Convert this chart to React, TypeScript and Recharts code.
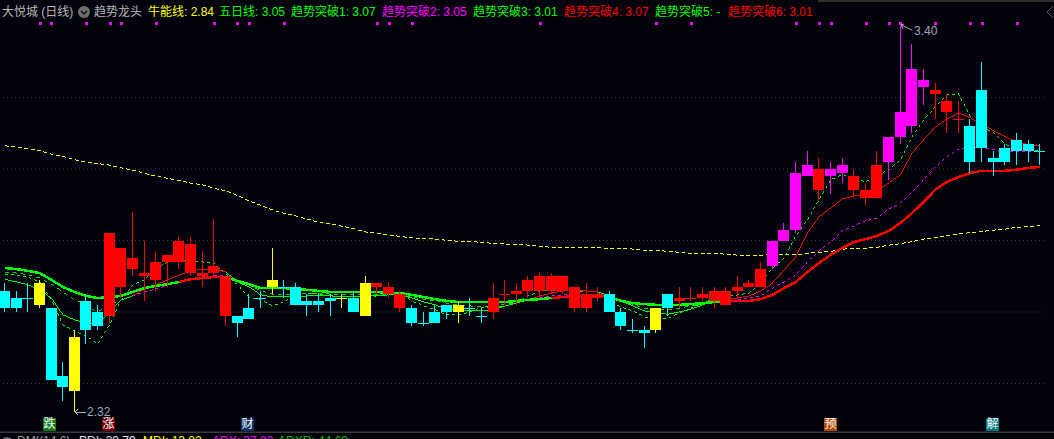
import React from "react";
import { ComposedChart, Bar, Line, XAxis, YAxis, ReferenceLine } from "recharts";

const kinds = ("c c c y c c y c c r " + "r r r r r r r r r r " + "c c c y c c c c c y " + "c y r r r c c c c y " + "c c r r r r r r r r " +
  "r r c c c c y c r r " + "r r r r r r m m m m " + "r m m r r r m m m m " + "r r r c c c c c c c").trim().split(" ");

const bodyTops = [
  2.66,2.64,2.64,2.68,2.61,2.42,2.53,2.63,2.60,2.82,
  2.78,2.75,2.71,2.74,2.76,2.80,2.79,2.71,2.73,2.70,
  2.59,2.61,2.64,2.69,2.67,2.67,2.63,2.63,2.64,2.64,
  2.64,2.68,2.68,2.67,2.65,2.61,2.57,2.60,2.62,2.62,
  2.61,2.59,2.64,2.65,2.66,2.69,2.70,2.70,2.70,2.67,
  2.65,2.65,2.65,2.60,2.55,2.55,2.61,2.65,2.64,2.64,
  2.65,2.66,2.66,2.67,2.68,2.72,2.80,2.83,2.99,3.01,
  3.00,3.00,3.01,2.98,2.94,3.01,3.09,3.16,3.28,3.25,
  3.22,3.19,3.14,3.12,3.22,3.03,3.06,3.08,3.07,3.05,
];
const bodyBottoms = [
  2.61,2.61,2.64,2.62,2.41,2.39,2.38,2.55,2.56,2.59,
  2.67,2.72,2.70,2.69,2.74,2.74,2.71,2.70,2.71,2.59,
  2.57,2.58,2.64,2.67,2.67,2.62,2.62,2.62,2.63,2.64,
  2.60,2.59,2.67,2.65,2.61,2.57,2.57,2.57,2.60,2.60,
  2.61,2.59,2.60,2.65,2.65,2.66,2.66,2.66,2.66,2.61,
  2.61,2.64,2.60,2.56,2.55,2.54,2.55,2.61,2.63,2.64,
  2.64,2.63,2.62,2.66,2.67,2.67,2.73,2.80,2.83,2.98,
  2.94,2.98,2.99,2.94,2.92,2.92,3.02,3.09,3.12,3.23,
  3.21,3.16,3.14,3.02,3.06,3.02,3.02,3.05,3.05,3.05,
];
const highs = [
  2.68,2.66,2.68,2.69,2.61,2.46,2.55,2.65,2.62,2.82,
  2.78,2.88,2.80,2.77,2.76,2.81,2.81,2.77,2.86,2.70,
  2.59,2.65,2.66,2.78,2.69,2.68,2.65,2.65,2.65,2.65,
  2.66,2.70,2.68,2.68,2.66,2.62,2.60,2.62,2.62,2.63,
  2.64,2.61,2.68,2.69,2.68,2.70,2.71,2.71,2.70,2.67,
  2.68,2.67,2.66,2.61,2.58,2.56,2.61,2.65,2.67,2.67,
  2.67,2.67,2.67,2.70,2.69,2.74,2.80,2.85,3.02,3.05,
  3.03,3.02,3.03,3.00,2.96,3.05,3.09,3.40,3.35,3.28,
  3.24,3.21,3.19,3.14,3.30,3.05,3.07,3.10,3.08,3.07,
];
const lows = [
  2.60,2.60,2.60,2.61,2.41,2.35,2.32,2.51,2.55,2.57,
  2.64,2.70,2.63,2.66,2.67,2.72,2.70,2.67,2.70,2.56,
  2.53,2.58,2.61,2.65,2.64,2.62,2.59,2.60,2.59,2.61,
  2.60,2.59,2.65,2.64,2.60,2.56,2.56,2.57,2.58,2.57,
  2.59,2.57,2.58,2.62,2.62,2.64,2.64,2.65,2.65,2.60,
  2.60,2.63,2.60,2.55,2.54,2.50,2.54,2.59,2.61,2.63,
  2.63,2.61,2.62,2.64,2.67,2.67,2.72,2.80,2.82,2.98,
  2.91,2.93,2.96,2.92,2.90,2.92,2.97,3.07,3.10,3.18,
  3.14,3.10,3.10,2.99,3.02,2.98,3.01,3.01,3.02,3.01,
];

const bullLine = [
  3.065,3.061,3.056,3.051,3.042,3.035,3.026,3.019,3.015,3.011,
  3.003,2.997,2.988,2.980,2.974,2.968,2.960,2.956,2.946,2.939,
  2.926,2.911,2.898,2.886,2.876,2.869,2.860,2.851,2.846,2.840,
  2.833,2.824,2.820,2.816,2.811,2.808,2.805,2.804,2.800,2.798,
  2.797,2.795,2.792,2.790,2.790,2.787,2.784,2.781,2.781,2.781,
  2.781,2.780,2.778,2.778,2.776,2.773,2.772,2.770,2.767,2.764,
  2.764,2.763,2.762,2.759,2.759,2.759,2.760,2.760,2.760,2.764,
  2.767,2.769,2.776,2.777,2.778,2.781,2.787,2.791,2.797,2.804,
  2.809,2.813,2.818,2.822,2.825,2.829,2.832,2.837,2.839,2.842,
];
const fiveDay = [
  2.706,2.704,2.698,2.684,2.634,2.564,2.547,2.533,2.510,2.564,
  2.634,2.676,2.690,2.723,2.740,2.746,2.743,2.740,2.737,2.706,
  2.676,2.642,2.634,2.617,2.628,2.650,2.653,2.650,2.645,2.642,
  2.642,2.642,2.645,2.648,2.653,2.631,2.617,2.606,2.592,2.592,
  2.600,2.614,2.614,2.617,2.625,2.645,2.659,2.659,2.659,2.659,
  2.656,2.656,2.628,2.614,2.603,2.586,2.583,2.583,2.597,2.611,
  2.625,2.639,2.642,2.648,2.653,2.681,2.723,2.751,2.813,2.858,
  2.914,2.970,2.984,2.975,2.964,2.981,2.998,3.026,3.090,3.138,
  3.174,3.208,3.210,3.146,3.118,3.101,3.070,3.054,3.051,3.051,
];
const breakFast = [
  2.692,2.684,2.676,2.662,2.639,2.592,2.578,2.569,2.564,2.600,
  2.634,2.645,2.664,2.676,2.690,2.704,2.715,2.720,2.720,2.712,
  2.684,2.670,2.648,2.642,2.642,2.642,2.645,2.645,2.645,2.642,
  2.642,2.645,2.645,2.648,2.648,2.639,2.628,2.620,2.608,2.606,
  2.603,2.603,2.606,2.617,2.625,2.634,2.645,2.653,2.659,2.662,
  2.659,2.656,2.645,2.631,2.617,2.603,2.597,2.594,2.600,2.608,
  2.620,2.631,2.634,2.639,2.645,2.659,2.681,2.718,2.754,2.821,
  2.866,2.891,2.916,2.925,2.930,2.939,2.961,2.984,3.045,3.082,
  3.118,3.140,3.157,3.143,3.126,3.107,3.090,3.076,3.068,3.065,
];
const breakMid = [
  2.712,2.709,2.704,2.695,2.678,2.656,2.634,2.617,2.600,2.620,
  2.634,2.645,2.656,2.664,2.676,2.684,2.692,2.698,2.701,2.701,
  2.690,2.676,2.659,2.650,2.650,2.650,2.653,2.653,2.650,2.648,
  2.648,2.648,2.648,2.648,2.648,2.642,2.636,2.631,2.625,2.620,
  2.617,2.614,2.617,2.622,2.625,2.634,2.639,2.645,2.648,2.648,
  2.648,2.648,2.642,2.631,2.622,2.611,2.606,2.606,2.611,2.617,
  2.622,2.628,2.631,2.634,2.639,2.645,2.667,2.684,2.704,2.740,
  2.771,2.796,2.827,2.841,2.855,2.863,2.888,2.905,2.936,2.970,
  3.006,3.034,3.056,3.062,3.059,3.054,3.051,3.048,3.048,3.048,
];
const breakSlow = [
  2.723,2.720,2.715,2.709,2.690,2.670,2.656,2.645,2.639,2.642,
  2.645,2.656,2.667,2.673,2.678,2.684,2.692,2.695,2.698,2.698,
  2.687,2.678,2.667,2.667,2.667,2.664,2.662,2.659,2.656,2.656,
  2.656,2.656,2.656,2.653,2.653,2.648,2.642,2.636,2.631,2.628,
  2.628,2.628,2.628,2.628,2.631,2.634,2.636,2.639,2.642,2.645,
  2.645,2.648,2.642,2.631,2.625,2.622,2.620,2.620,2.620,2.622,
  2.625,2.628,2.631,2.631,2.631,2.636,2.648,2.667,2.684,2.712,
  2.737,2.760,2.779,2.796,2.804,2.813,2.827,2.849,2.877,2.908,
  2.942,2.964,2.978,2.989,2.995,2.995,2.995,2.998,3.003,3.006,
];

const fastRedRanges = [[11, 19], [45, 51], [61, 89]];
const midMagentaRanges = [[10, 19], [44, 51], [60, 89]];
const slowRedRanges = [[15, 19], [47, 52], [62, 89]];
const signalDays = [3,4,7,9,10,13,18,20,21,24,32,33,35,46,56,59,68,70,71,74,76,77,80,83,84,87];
const signalLevel = 3.407;
const gridLevels = [2.4, 2.6, 2.8, 3.0, 3.2];

const inRange = (i: number, ranges: number[][]) => ranges.some(([a, b]) => i >= a && i <= b);
const inside = (i: number, ranges: number[][]) => ranges.some(([a, b]) => i > a && i < b) || ranges.some(([a, b]) => b === 89 && i > a);

const table = kinds.map((kind, i) => ({
  day: i,
  kind,
  top: bodyTops[i],
  bottom: bodyBottoms[i],
  high: highs[i],
  low: lows[i],
  range: [lows[i], highs[i]],
  bull: bullLine[i],
  five: fiveDay[i],
  fastGreen: inside(i, fastRedRanges) ? null : breakFast[i],
  fastRed: inRange(i, fastRedRanges) ? breakFast[i] : null,
  midGreen: inside(i, midMagentaRanges) ? null : breakMid[i],
  midMagenta: inRange(i, midMagentaRanges) ? breakMid[i] : null,
  slowGreen: inside(i, slowRedRanges) ? null : breakSlow[i],
  slowRed: inRange(i, slowRedRanges) ? breakSlow[i] : null,
  signal: signalDays.includes(i) ? signalLevel : null,
}));

const kindColor: Record<string, string> = { c: "#00ffff", r: "#ff0000", m: "#ff00ff", y: "#ffff00" };

function Candle(props: any) {
  const { x, y, width, height, payload } = props;
  const { high, low, top, bottom, kind } = payload;
  const perUnit = height / (high - low);
  const yTop = y + (high - top) * perUnit;
  const yBottom = y + (high - bottom) * perUnit;
  const color = kindColor[kind];
  const left = Math.round(x + width / 2 - 5.5);
  const mid = left + 5;
  return (
    <g shapeRendering="crispEdges">
      <rect x={mid} y={y} width={1} height={height} fill={color} />
      <rect x={left} y={yTop} width={11} height={Math.max(yBottom - yTop, 1)} fill={color} />
    </g>
  );
}

function SignalDot(props: any) {
  const { cx, cy, index } = props;
  if (cy == null || cx == null || props.payload?.signal == null) return <g key={index} />;
  return <rect key={index} x={Math.round(cx) - 1} y={Math.round(cy) - 1} width={3} height={3} fill="#ff00ff" shapeRendering="crispEdges" />;
}

const headerItems = [
  { x: 2, text: "大悦城 (日线)", color: "#b8b8b8" },
  { x: 94, text: "趋势龙头", color: "#b8b8b8" },
  { x: 148, text: "牛能线: 2.84", color: "#ffff00" },
  { x: 219, text: "五日线: 3.05", color: "#00ff00" },
  { x: 291, text: "趋势突破1: 3.07", color: "#00ff00" },
  { x: 382, text: "趋势突破2: 3.05", color: "#ff00ff" },
  { x: 473, text: "趋势突破3: 3.01", color: "#00ff00" },
  { x: 564, text: "趋势突破4: 3.07", color: "#ff0000" },
  { x: 655, text: "趋势突破5: -", color: "#00ff00" },
  { x: 728, text: "趋势突破6: 3.01", color: "#ff0000" },
];
const eventTags = [
  { x: 43, text: "跌", color: "#0a7a10" },
  { x: 102, text: "涨", color: "#7a0000" },
  { x: 241, text: "财", color: "#0a2e66" },
  { x: 824, text: "预", color: "#b04a00" },
  { x: 986, text: "解", color: "#007a80" },
];
const footerItems = [
  { x: 17, text: "DMI(14,6)", color: "#a0a0a0" },
  { x: 79, text: "PDI: 30.79", color: "#e0e0e0" },
  { x: 143, text: "MDI: 13.82", color: "#ffff00" },
  { x: 212, text: "ADX: 37.82", color: "#ff00ff" },
  { x: 278, text: "ADXR: 44.69", color: "#00c000" },
];

const fontFamily = "'Liberation Sans','Noto Sans CJK SC',sans-serif";
const label = (x: number, y: number, color: string, size = 12): React.CSSProperties => ({
  position: "absolute", left: x, top: y, color, fontSize: size, lineHeight: `${size + 2}px`, whiteSpace: "nowrap", fontFamily,
});
const aliased = { shapeRendering: "crispEdges" } as any;

export default function App() {
  return (
    <div style={{ position: "fixed", left: 0, top: 0, width: 1054, height: 439, overflow: "hidden", background: "#02020c" }}>
      <div style={{ position: "absolute", left: -1.48, top: 0 }}>
        <ComposedChart width={1046.88} height={439} data={table} margin={{ top: 0, right: 0, bottom: 0, left: 0 }}>
          <XAxis dataKey="day" hide />
          <YAxis hide type="number" domain={[2.2448, 3.4727]} allowDataOverflow />
          {gridLevels.map((v) => (
            <ReferenceLine key={v} y={v} stroke="#3a3a3a" strokeDasharray="1 3" />
          ))}
          <Line dataKey="bull" stroke="#ffff00" strokeWidth={1} strokeDasharray="4 2.5" dot={false} isAnimationActive={false} type="linear" {...aliased} />
          <Line dataKey="five" stroke="#00ff00" strokeWidth={1} strokeDasharray="3 3" dot={false} isAnimationActive={false} type="linear" {...aliased} />
          <Line dataKey="midGreen" stroke="#00e000" strokeWidth={1} strokeDasharray="4 4" dot={false} isAnimationActive={false} type="linear" {...aliased} />
          <Line dataKey="midMagenta" stroke="#ff00ff" strokeWidth={1} strokeDasharray="3 3" dot={false} isAnimationActive={false} type="linear" {...aliased} />
          <Line dataKey="fastGreen" stroke="#00ff00" strokeWidth={1} dot={false} isAnimationActive={false} type="linear" {...aliased} />
          <Line dataKey="fastRed" stroke="#ff0000" strokeWidth={1} dot={false} isAnimationActive={false} type="linear" {...aliased} />
          <Line dataKey="slowGreen" stroke="#00ff00" strokeWidth={2.5} dot={false} isAnimationActive={false} type="linear" {...aliased} />
          <Line dataKey="slowRed" stroke="#ff0000" strokeWidth={2.5} dot={false} isAnimationActive={false} type="linear" {...aliased} />
          <Line dataKey="signal" stroke="none" dot={SignalDot as any} activeDot={false} isAnimationActive={false} />
          <Bar dataKey="range" barSize={11} shape={Candle as any} isAnimationActive={false} {...({ zIndex: 500 } as any)} />
        </ComposedChart>
      </div>

      {headerItems.map((h) => (
        <span key={h.text} style={label(h.x, 5, h.color)}>{h.text}</span>
      ))}
      <svg style={{ position: "absolute", left: 0, top: 0 }} width={1054} height={439}>
        <circle cx={84} cy={12} r={6} fill="#6e6e6e" />
        <polyline points="81,11 84,14 87,11" fill="none" stroke="#101010" strokeWidth={1.5} />
        <rect x={818} y={0} width={236} height={2} fill="#2e2e2e" />
        <polyline points="1053,6 1047,12 1053,18" fill="none" stroke="#5a5a5a" strokeWidth={1} />
        <line x1={901} y1={25} x2={912} y2={30} stroke="#b0b0b0" strokeWidth={1} />
        <polyline points="904,24 901,25 903,29" fill="none" stroke="#b0b0b0" strokeWidth={1} />
        <line x1={75} y1={412} x2={86} y2={412} stroke="#b0b0b0" strokeWidth={1} shapeRendering="crispEdges" />
        <polyline points="78,409 75,412 78,415" fill="none" stroke="#b0b0b0" strokeWidth={1} />
        <rect x={0} y={431.5} width={1054} height={1.5} fill="#3a3a3a" />
        <circle cx={7} cy={443} r={6} fill="#6e6e6e" />
      </svg>
      <span style={label(914, 24, "#a0a8b8")}>3.40</span>
      <span style={label(87, 405, "#a0a8b8")}>2.32</span>
      {eventTags.map((t) => (
        <span key={t.text} style={{ ...label(t.x, 418, "#ffffff"), width: 13, height: 13, lineHeight: "13px", textAlign: "center", background: t.color }}>{t.text}</span>
      ))}
      {footerItems.map((f) => (
        <span key={f.text} style={label(f.x, 434, f.color)}>{f.text}</span>
      ))}
    </div>
  );
}
